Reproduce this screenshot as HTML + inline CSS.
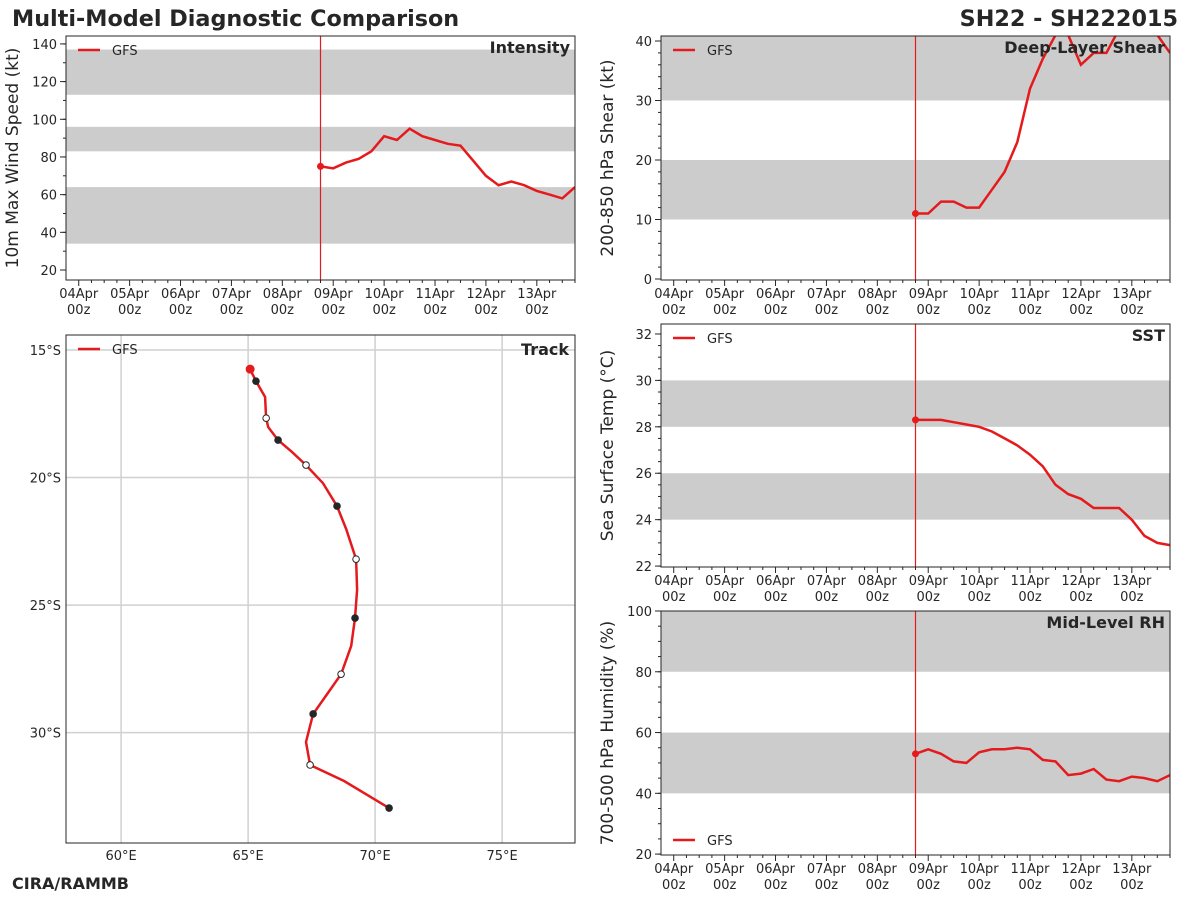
<!DOCTYPE html>
<html><head><meta charset="utf-8"><style>
body{margin:0;background:#fff;font-family:"DejaVu Sans","Liberation Sans",sans-serif;}
svg text{font-family:"DejaVu Sans","Liberation Sans",sans-serif;fill:#262626;}
</style></head><body>
<svg id="s" width="1200" height="900" viewBox="0 0 1200 900" xmlns="http://www.w3.org/2000/svg">
<text x="12" y="26" font-size="22.3" font-weight="bold">Multi-Model Diagnostic Comparison</text>
<text x="1178" y="26" font-size="22.3" font-weight="bold" text-anchor="end">SH22 - SH222015</text>
<text x="12" y="889" font-size="16" font-weight="bold">CIRA/RAMMB</text>
</svg>
<script>
const hours = [114,120,126,132,138,144,150,156,162,168,174,180,186,192,198,204,210,216,222,228,234];
const intensity = [75,74,77,79,83,91,89,95,91,89,87,86,78,70,65,67,65,62,60,58,64];
const shear = [11,11,13,13,12,12,15,18,23,32,37,41,41,36,38,38,42,43,43,41,38];
const sst = [28.3,28.3,28.3,28.2,28.1,28.0,27.8,27.5,27.2,26.8,26.3,25.5,25.1,24.9,24.5,24.5,24.5,24.0,23.3,23.0,22.9];
const rh = [53,54.5,53,50.5,50,53.5,54.5,54.5,55,54.5,51,50.5,46,46.5,48,44.5,44,45.5,45,44,46];
const trackLon = [65.08,65.31,65.67,65.71,65.79,66.18,66.73,67.28,67.95,68.5,68.86,69.25,69.29,69.21,69.06,68.66,68.11,67.56,67.28,67.44,68.78,70.55];
const trackLat = [15.75,16.22,16.84,17.67,18.02,18.53,19.0,19.51,20.22,21.12,22.02,23.2,24.41,25.51,26.6,27.71,28.49,29.27,30.37,31.27,31.9,32.96];
const trackMark = ['s','f','-','o','-','f','-','o','-','f','-','o','-','f','-','o','-','f','-','o','-','f'];
const dayLabels = ['04Apr','05Apr','06Apr','07Apr','08Apr','09Apr','10Apr','11Apr','12Apr','13Apr'];
const nowHour = 114;

const S = document.getElementById('s');
const NS = 'http://www.w3.org/2000/svg';
function el(tag, attrs, parent){const e=document.createElementNS(NS,tag);for(const k in attrs)e.setAttribute(k,attrs[k]);(parent||S).appendChild(e);return e;}
const RED = '#e41a1c';

function timePanel(cfg){
  const g = el('g',{});
  
  
  const L=cfg.x0,R=cfg.x1,T=cfg.y0,B=cfg.y1;
  const X = h => L + (h + 6) / 240 * (R - L);
  const Y = v => B - (v - cfg.ymin) / (cfg.ymax - cfg.ymin) * (B - T);
  cfg.bands.forEach(b=>{
    const r = el('rect',{x:L,y:Y(Math.min(b[1],cfg.ymax)),width:R-L,height:Y(b[0])-Y(Math.min(b[1],cfg.ymax)),fill:'#cccccc'},g);
    
    
  });
  for(let h=0; h<=234; h+=6){
    const major = h%24===0;
    el('line',{x1:X(h),x2:X(h),y1:B,y2:B+(major?6:3),stroke:'#262626','stroke-width':1},g);
  }
  dayLabels.forEach((d,i)=>{
    const t = el('text',{x:X(i*24),y:B+18,'font-size':13,'text-anchor':'middle'},g);
    t.textContent=d;
    
    
    const t2 = el('text',{x:X(i*24),y:B+34,'font-size':13,'text-anchor':'middle'},g);
    t2.textContent='00z';
    
    
  });
  for(let v=cfg.minorStart; v<=cfg.ymax; v+=cfg.minor){
    el('line',{x1:L,x2:L-3,y1:Y(v),y2:Y(v),stroke:'#262626','stroke-width':1},g);
  }
  cfg.yticks.forEach(v=>{
    el('line',{x1:L,x2:L-6,y1:Y(v),y2:Y(v),stroke:'#262626','stroke-width':1},g);
    const t = el('text',{x:L-9,y:Y(v)+5,'font-size':13,'text-anchor':'end'},g);
    t.textContent=v;
    
    
  });
  const yt = el('text',{x:0,y:0,'font-size':17,'text-anchor':'middle',transform:`translate(${L-48},${(T+B)/2}) rotate(-90)`},g);
  yt.textContent=cfg.ylabel;
  
  
  el('line',{x1:X(nowHour),x2:X(nowHour),y1:T,y2:B,stroke:RED,'stroke-width':1.2},g);
  const pts = hours.map((h,i)=>X(h).toFixed(1)+','+Y(cfg.data[i]).toFixed(1)).join(' ');
  const cp = el('clipPath',{id:'c'+cfg.name},g);
  el('rect',{x:L,y:T,width:R-L,height:B-T},cp);
  const pl = el('polyline',{points:pts,fill:'none',stroke:RED,'stroke-width':2.5,'clip-path':`url(#c${cfg.name})`},g);
  
  
  el('circle',{cx:X(hours[0]),cy:Y(cfg.data[0]),r:3.5,fill:RED},g);
  el('rect',{x:L,y:T,width:R-L,height:B-T,fill:'none',stroke:'#262626','stroke-width':1},g);
  const tt = el('text',{x:R-5,y:T+17,'font-size':16,'font-weight':'bold','text-anchor':'end'},g);
  tt.textContent=cfg.title;
  
  
  const ly = cfg.legendBottom ? B-15 : T+14;
  el('line',{x1:L+12,x2:L+34,y1:ly,y2:ly,stroke:RED,'stroke-width':2.5},g);
  const lt = el('text',{x:L+46,y:ly+5,'font-size':13},g);
  lt.textContent='GFS';
  
  
}
timePanel({name:'intensity-panel',x0:66,x1:575,y0:36,y1:280,ymin:14.7,ymax:144.2,data:intensity,bands:[[34,64],[83,96],[113,137]],yticks:[20,40,60,80,100,120,140],minor:10,minorStart:20,ylabel:'10m Max Wind Speed (kt)',title:'Intensity'});
timePanel({name:'shear-panel',x0:661,x1:1170,y0:36,y1:280,ymin:-0.17,ymax:40.84,data:shear,bands:[[10,20],[30,45]],yticks:[0,10,20,30,40],minor:2,minorStart:0,ylabel:'200-850 hPa Shear (kt)',title:'Deep-Layer Shear'});
timePanel({name:'sst-panel',x0:661,x1:1170,y0:324,y1:567,ymin:21.96,ymax:32.43,data:sst,bands:[[24,26],[28,30]],yticks:[22,24,26,28,30,32],minor:0.5,minorStart:22,ylabel:'Sea Surface Temp (°C)',title:'SST'});
timePanel({name:'rh-panel',x0:661,x1:1170,y0:611,y1:855,ymin:19.7,ymax:100,data:rh,bands:[[40,60],[80,100]],yticks:[20,40,60,80,100],minor:5,minorStart:20,ylabel:'700-500 hPa Humidity (%)',title:'Mid-Level RH',legendBottom:true});

(function(){
  const g = el('g',{});
  
  
  const L=66,R=575,T=335,B=843;
  const X = lon => L + (lon-57.83)/(77.87-57.83)*(R-L);
  const Y = lat => T + (lat-14.41)/(34.33-14.41)*(B-T);
  [60,65,70,75].forEach(lon=>{
    el('line',{x1:X(lon),x2:X(lon),y1:T,y2:B,stroke:'#d0d0d0','stroke-width':1.5},g);
    const t=el('text',{x:X(lon),y:B+17,'font-size':13,'text-anchor':'middle'},g);
    t.textContent=lon+'°E';
    
    
  });
  [15,20,25,30].forEach(lat=>{
    el('line',{x1:L,x2:R,y1:Y(lat),y2:Y(lat),stroke:'#d0d0d0','stroke-width':1.5},g);
    const t=el('text',{x:L-5,y:Y(lat)+5,'font-size':13,'text-anchor':'end'},g);
    t.textContent=lat+'°S';
    
    
  });
  const pts = trackLon.map((lo,i)=>X(lo).toFixed(1)+','+Y(trackLat[i]).toFixed(1)).join(' ');
  const pl = el('polyline',{points:pts,fill:'none',stroke:RED,'stroke-width':2.5},g);
  
  
  trackLon.forEach((lo,i)=>{
    const m=trackMark[i];
    if(m==='-')return;
    const c = el('circle',{cx:X(lo),cy:Y(trackLat[i]),r:m==='s'?4:3.3,fill:m==='s'?RED:(m==='f'?'#262626':'#fff'),stroke:m==='s'?RED:'#262626','stroke-width':1},g);
    
    
  });
  el('rect',{x:L,y:T,width:R-L,height:B-T,fill:'none',stroke:'#262626','stroke-width':1},g);
  const tt=el('text',{x:R-6,y:T+20,'font-size':16,'font-weight':'bold','text-anchor':'end'},g);
  tt.textContent='Track';
  
  
  el('line',{x1:L+12,x2:L+34,y1:T+14,y2:T+14,stroke:RED,'stroke-width':2.5},g);
  const lt=el('text',{x:L+46,y:T+19,'font-size':13},g);
  lt.textContent='GFS';
  
  
})();
</script>
</body></html>
